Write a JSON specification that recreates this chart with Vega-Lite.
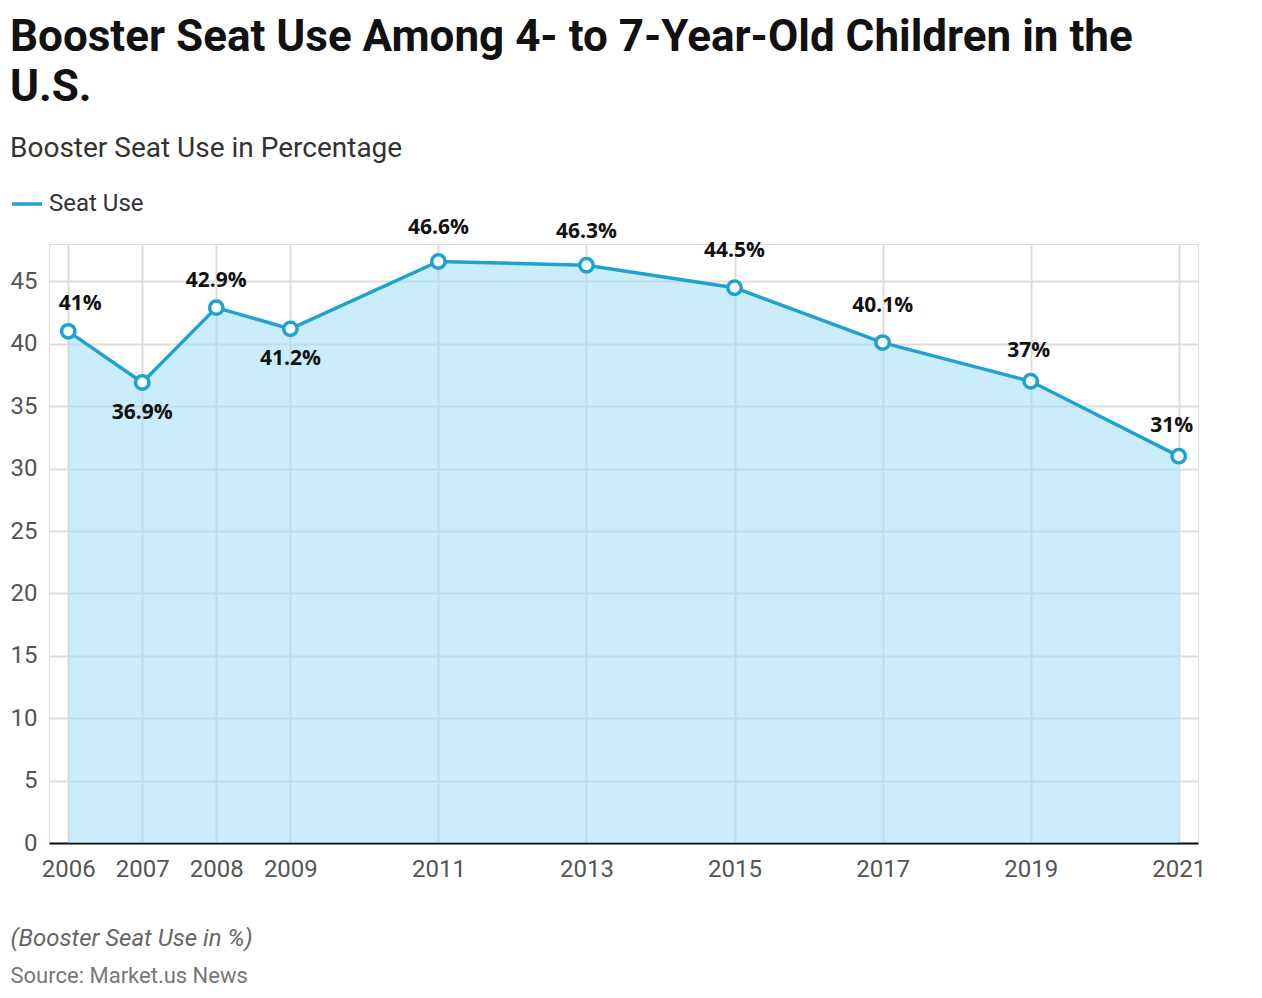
{
  "$schema": "https://vega.github.io/schema/vega-lite/v6.json",
  "autosize": {"type": "none"},
  "width": 1149,
  "height": 599,
  "padding": {"left": 49, "top": 244, "right": 64, "bottom": 155},
  "background": "white",
  "title": {
    "text": ["Booster Seat Use Among 4- to 7-Year-Old Children in the", "U.S."],
    "subtitle": "Booster Seat Use in Percentage",
    "anchor": "start",
    "frame": "group",
    "dx": -39,
    "offset": 24,
    "font": "Roboto",
    "fontSize": 44,
    "fontWeight": "bold",
    "color": "#111111",
    "lineHeight": 50,
    "subtitleFont": "Roboto",
    "subtitleFontSize": 28,
    "subtitleColor": "#333333",
    "subtitlePadding": 25
  },
  "data": {
    "values": [
      {"year": 2006, "value": 41, "label": "41%"},
      {"year": 2007, "value": 36.9, "label": "36.9%"},
      {"year": 2008, "value": 42.9, "label": "42.9%"},
      {"year": 2009, "value": 41.2, "label": "41.2%"},
      {"year": 2011, "value": 46.6, "label": "46.6%"},
      {"year": 2013, "value": 46.3, "label": "46.3%"},
      {"year": 2015, "value": 44.5, "label": "44.5%"},
      {"year": 2017, "value": 40.1, "label": "40.1%"},
      {"year": 2019, "value": 37, "label": "37%"},
      {"year": 2021, "value": 31, "label": "31%"}
    ]
  },
  "encoding": {
    "x": {
      "field": "year",
      "type": "quantitative",
      "scale": {"domain": [2005.74, 2021.26], "nice": false, "zero": false},
      "axis": {
        "values": [2006, 2007, 2008, 2009, 2011, 2013, 2015, 2017, 2019, 2021],
        "format": "d",
        "labelFlush": false,
        "labelFont": "Roboto",
        "labelFontSize": 24,
        "labelColor": "#555555",
        "labelPadding": 14,
        "ticks": false,
        "domain": true,
        "domainColor": "#111111",
        "domainWidth": 2,
        "grid": true,
        "gridColor": "#dddddd",
        "gridWidth": 2,
        "title": "(Booster Seat Use in %)",
        "titleFont": "Roboto",
        "titleFontSize": 24,
        "titleFontStyle": "italic",
        "titleFontWeight": "normal",
        "titleColor": "#666666",
        "titleX": -39,
        "titleY": 102,
        "titleAlign": "left",
        "titleBaseline": "alphabetic"
      }
    },
    "y": {
      "field": "value",
      "type": "quantitative",
      "scale": {"domain": [0, 48], "nice": false},
      "axis": {
        "values": [0, 5, 10, 15, 20, 25, 30, 35, 40, 45],
        "labelFont": "Roboto",
        "labelFontSize": 24,
        "labelColor": "#555555",
        "labelPadding": 12,
        "ticks": false,
        "domain": false,
        "grid": true,
        "gridColor": "#dddddd",
        "gridWidth": 2,
        "title": "Source: Market.us News",
        "titleFont": "Roboto",
        "titleFontSize": 22,
        "titleFontWeight": "normal",
        "titleColor": "#777777",
        "titleAngle": 0,
        "titleX": -39,
        "titleY": 738,
        "titleAlign": "left",
        "titleBaseline": "alphabetic"
      }
    }
  },
  "layer": [
    {
      "mark": {"type": "area", "color": "#9fdcf7", "opacity": 0.55},
      "encoding": {}
    },
    {
      "mark": {"type": "line", "strokeWidth": 3.5},
      "encoding": {
        "color": {
          "datum": "Seat Use",
          "type": "nominal",
          "scale": {"range": ["#1ea2d0"]},
          "legend": {
            "orient": "none",
            "legendX": -39,
            "legendY": -57,
            "title": null,
            "symbolType": "stroke",
            "symbolStrokeWidth": 3.5,
            "symbolSize": 900,
            "labelFont": "Roboto",
            "labelFontSize": 24,
            "labelColor": "#333333",
            "labelOffset": 5
          }
        }
      }
    },
    {
      "mark": {"type": "point", "filled": true, "fill": "white", "stroke": "#1ea2d0", "strokeWidth": 3.5, "size": 180, "opacity": 1},
      "encoding": {}
    },
    {
      "transform": [{"filter": "datum.year == 2006"}],
      "mark": {"type": "text", "font": "Open Sans", "fontWeight": "bold", "fontSize": 21, "color": "#111111", "baseline": "bottom", "dy": -17, "dx": 12},
      "encoding": {"text": {"field": "label"}}
    },
    {
      "transform": [{"filter": "datum.year == 2008"}],
      "mark": {"type": "text", "font": "Open Sans", "fontWeight": "bold", "fontSize": 21, "color": "#111111", "baseline": "bottom", "dy": -17},
      "encoding": {"text": {"field": "label"}}
    },
    {
      "transform": [{"filter": "datum.year == 2011 || datum.year == 2013"}],
      "mark": {"type": "text", "font": "Open Sans", "fontWeight": "bold", "fontSize": 21, "color": "#111111", "baseline": "bottom", "dy": -23},
      "encoding": {"text": {"field": "label"}}
    },
    {
      "transform": [{"filter": "datum.year == 2015 || datum.year == 2017"}],
      "mark": {"type": "text", "font": "Open Sans", "fontWeight": "bold", "fontSize": 21, "color": "#111111", "baseline": "bottom", "dy": -27},
      "encoding": {"text": {"field": "label"}}
    },
    {
      "transform": [{"filter": "datum.year == 2019"}],
      "mark": {"type": "text", "font": "Open Sans", "fontWeight": "bold", "fontSize": 21, "color": "#111111", "baseline": "bottom", "dy": -20, "dx": -2},
      "encoding": {"text": {"field": "label"}}
    },
    {
      "transform": [{"filter": "datum.year == 2021"}],
      "mark": {"type": "text", "font": "Open Sans", "fontWeight": "bold", "fontSize": 21, "color": "#111111", "baseline": "bottom", "dy": -20, "dx": -7},
      "encoding": {"text": {"field": "label"}}
    },
    {
      "transform": [{"filter": "datum.year == 2007 || datum.year == 2009"}],
      "mark": {"type": "text", "font": "Open Sans", "fontWeight": "bold", "fontSize": 21, "color": "#111111", "baseline": "top", "dy": 19},
      "encoding": {"text": {"field": "label"}}
    }
  ]
}
